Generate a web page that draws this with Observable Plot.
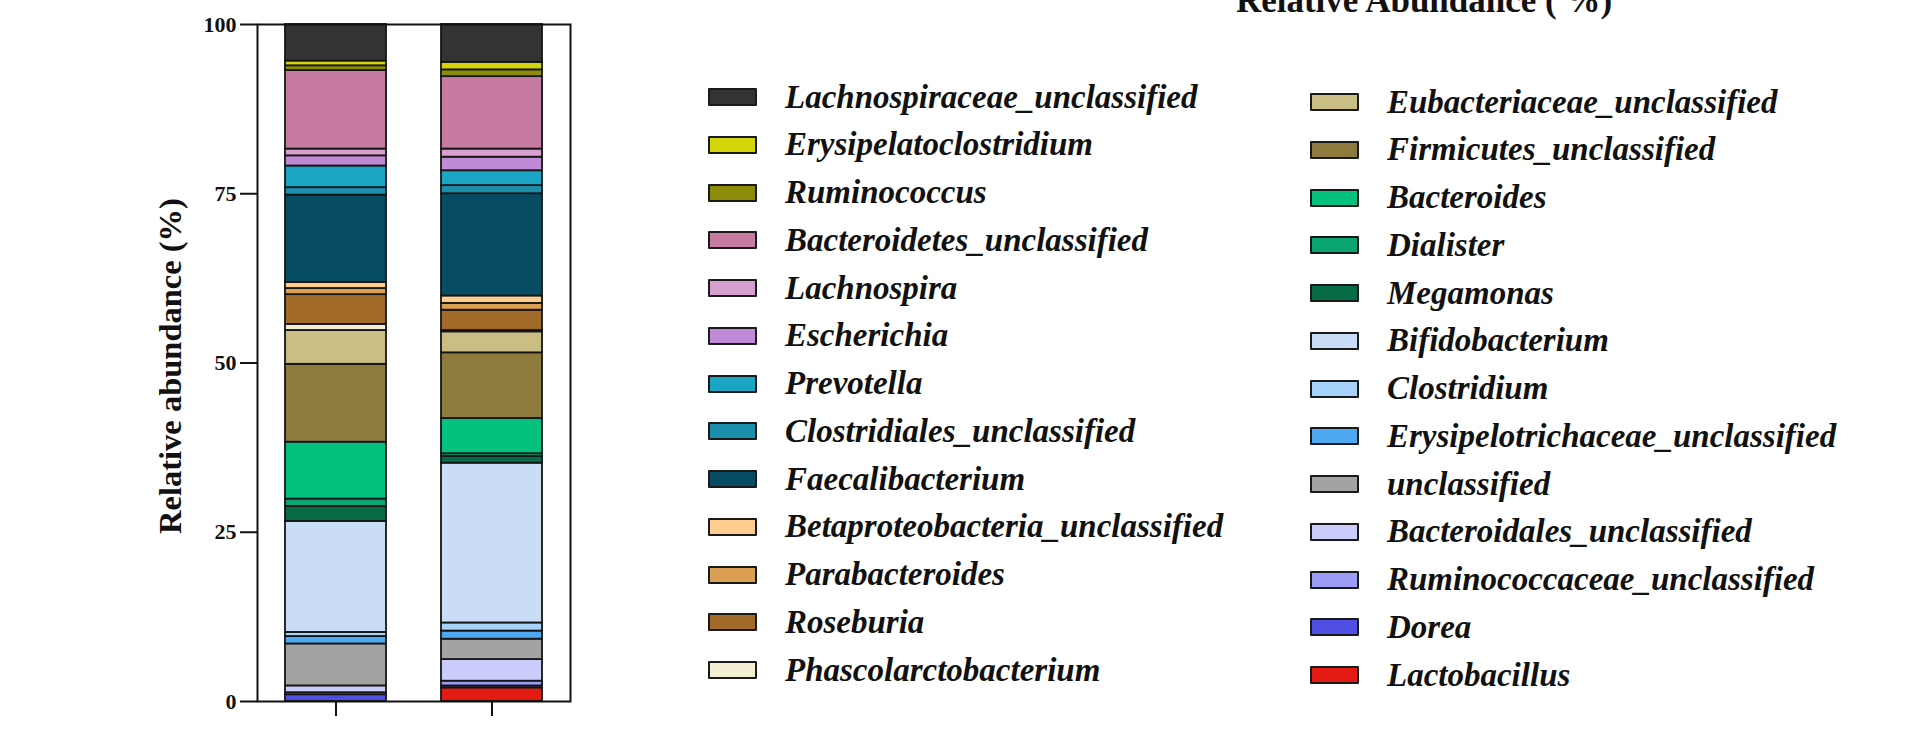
<!DOCTYPE html>
<html><head><meta charset="utf-8">
<script src="https://cdn.jsdelivr.net/npm/d3@7"></script>
<script src="https://cdn.jsdelivr.net/npm/@observablehq/plot@0.6"></script>
<style>
html,body{margin:0;padding:0;background:#fff;overflow:hidden;}
#wrap{position:relative;width:1920px;height:731px;}
#chart svg{display:block;}
.title{position:absolute;left:1424px;top:-17px;transform:translateX(-50%);font:bold 35px/35px "Liberation Serif",serif;white-space:nowrap;color:#111;}
.leg{position:absolute;font:italic bold 33px/33px "Liberation Serif",serif;white-space:nowrap;color:#111;}
.sw{position:absolute;width:45px;height:14px;border:2px solid #1a1a1a;border-radius:1px;}
</style></head><body><div id="wrap"><div id="chart"></div></div>
<script>
// Groups (x categories; tick labels are cut off in the reference)
const groups = ["Group 1", "Group 2"];
// Taxa, stack order bottom -> top
const taxa = [
  "Lactobacillus", "Dorea", "Ruminococcaceae_unclassified", "Bacteroidales_unclassified",
  "unclassified", "Erysipelotrichaceae_unclassified", "Clostridium", "Bifidobacterium",
  "Megamonas", "Dialister", "Bacteroides", "Firmicutes_unclassified",
  "Eubacteriaceae_unclassified", "Phascolarctobacterium", "Roseburia", "Parabacteroides",
  "Betaproteobacteria_unclassified", "Faecalibacterium", "Clostridiales_unclassified", "Prevotella",
  "Escherichia", "Lachnospira", "Bacteroidetes_unclassified", "Ruminococcus",
  "Erysipelatoclostridium", "Lachnospiraceae_unclassified"
];
const colors = [
  "#E41B12", "#4F4FE6", "#9D9DF8", "#CCCCFC",
  "#A3A3A3", "#4FA8F2", "#A5D3FA", "#C9DEF6",
  "#076B46", "#0BA573", "#04C27D", "#8C7B3C",
  "#CABE85", "#F3EFD5", "#A26A28", "#DCA055",
  "#FFCC90", "#064C62", "#1C8FAD", "#1BA5C4",
  "#C08AD6", "#D8A0CF", "#C77BA1", "#8C8C0A",
  "#D4D40A", "#333333"
];
// Relative abundance (%) per taxon, same order as taxa
const valuesG1 = [
  0.0, 1.0, 0.3, 1.0,
  6.2, 1.1, 0.6, 16.4,
  2.2, 1.1, 8.4, 11.5,
  5.0, 0.9, 4.4, 0.9,
  0.9, 12.9, 1.1, 3.2,
  1.5, 1.0, 11.6, 0.7,
  0.7, 5.4
];
const valuesG2 = [
  2.0, 0.3, 0.7, 3.2,
  3.0, 1.2, 1.2, 23.6,
  1.0, 0.4, 5.2, 9.7,
  3.1, 0.2, 3.0, 1.0,
  1.1, 15.1, 1.2, 2.2,
  2.0, 1.2, 10.7, 1.0,
  1.1, 5.6
];
const yTicks = [0, 25, 50, 75, 100];
const yLabel = "Relative abundance (%)";
const titleText = "Relative Abundance ( %)";

const rows = [];
[valuesG1, valuesG2].forEach((vals, gi) => {
  taxa.forEach((t, i) => { if (vals[i] > 0) rows.push({group: groups[gi], taxon: t, value: vals[i]}); });
});

const plot = Plot.plot({
  width: 1920, height: 731,
  marginLeft: 257, marginRight: 1350, marginTop: 24, marginBottom: 30,
  style: {background: "transparent", fontFamily: '"Liberation Serif", serif', color: "#111", overflow: "visible"},
  x: {domain: groups, paddingInner: 0.35, paddingOuter: 0.172},
  y: {domain: [0, 100]},
  color: {domain: taxa, range: colors},
  marks: [
    Plot.barY(rows, {x: "group", y: "value", fill: "taxon", z: "taxon", order: taxa, stroke: "#151515", strokeWidth: 1.8}),
    Plot.frame({stroke: "#111", strokeWidth: 2}),
    Plot.axisY({ticks: yTicks, tickSize: 17, tickPadding: 4, strokeWidth: 2, fontSize: 22, fontWeight: "bold", label: null}),
    Plot.axisX({tickSize: 15, strokeWidth: 2, tickFormat: () => "", label: null}),
    Plot.text([yLabel], {text: d => d, frameAnchor: "left", textAnchor: "middle", rotate: -90, dx: -87, dy: 3, fontSize: 32.5, fontWeight: "bold", lineAnchor: "middle", fill: "#111"})
  ]
});
document.getElementById("chart").appendChild(plot);

const wrap = document.getElementById("wrap");
const t = document.createElement("div");
t.className = "title"; t.textContent = titleText; wrap.appendChild(t);

// Legend: top of stack first
const legendOrder = taxa.slice().reverse();
const cols = [
  {items: legendOrder.slice(0, 13), swX: 708, txX: 785, y0: 97},
  {items: legendOrder.slice(13), swX: 1310, txX: 1387, y0: 102}
];
const rowStep = 47.75;
cols.forEach(c => {
  c.items.forEach((name, i) => {
    const cy = c.y0 + i * rowStep;
    const sw = document.createElement("div");
    sw.className = "sw";
    sw.style.left = c.swX + "px";
    sw.style.top = (cy - 9) + "px";
    sw.style.background = colors[taxa.indexOf(name)];
    wrap.appendChild(sw);
    const tx = document.createElement("div");
    tx.className = "leg";
    tx.textContent = name;
    tx.style.left = c.txX + "px";
    tx.style.top = (cy - 16.5) + "px";
    wrap.appendChild(tx);
  });
});
</script>
</body></html>
